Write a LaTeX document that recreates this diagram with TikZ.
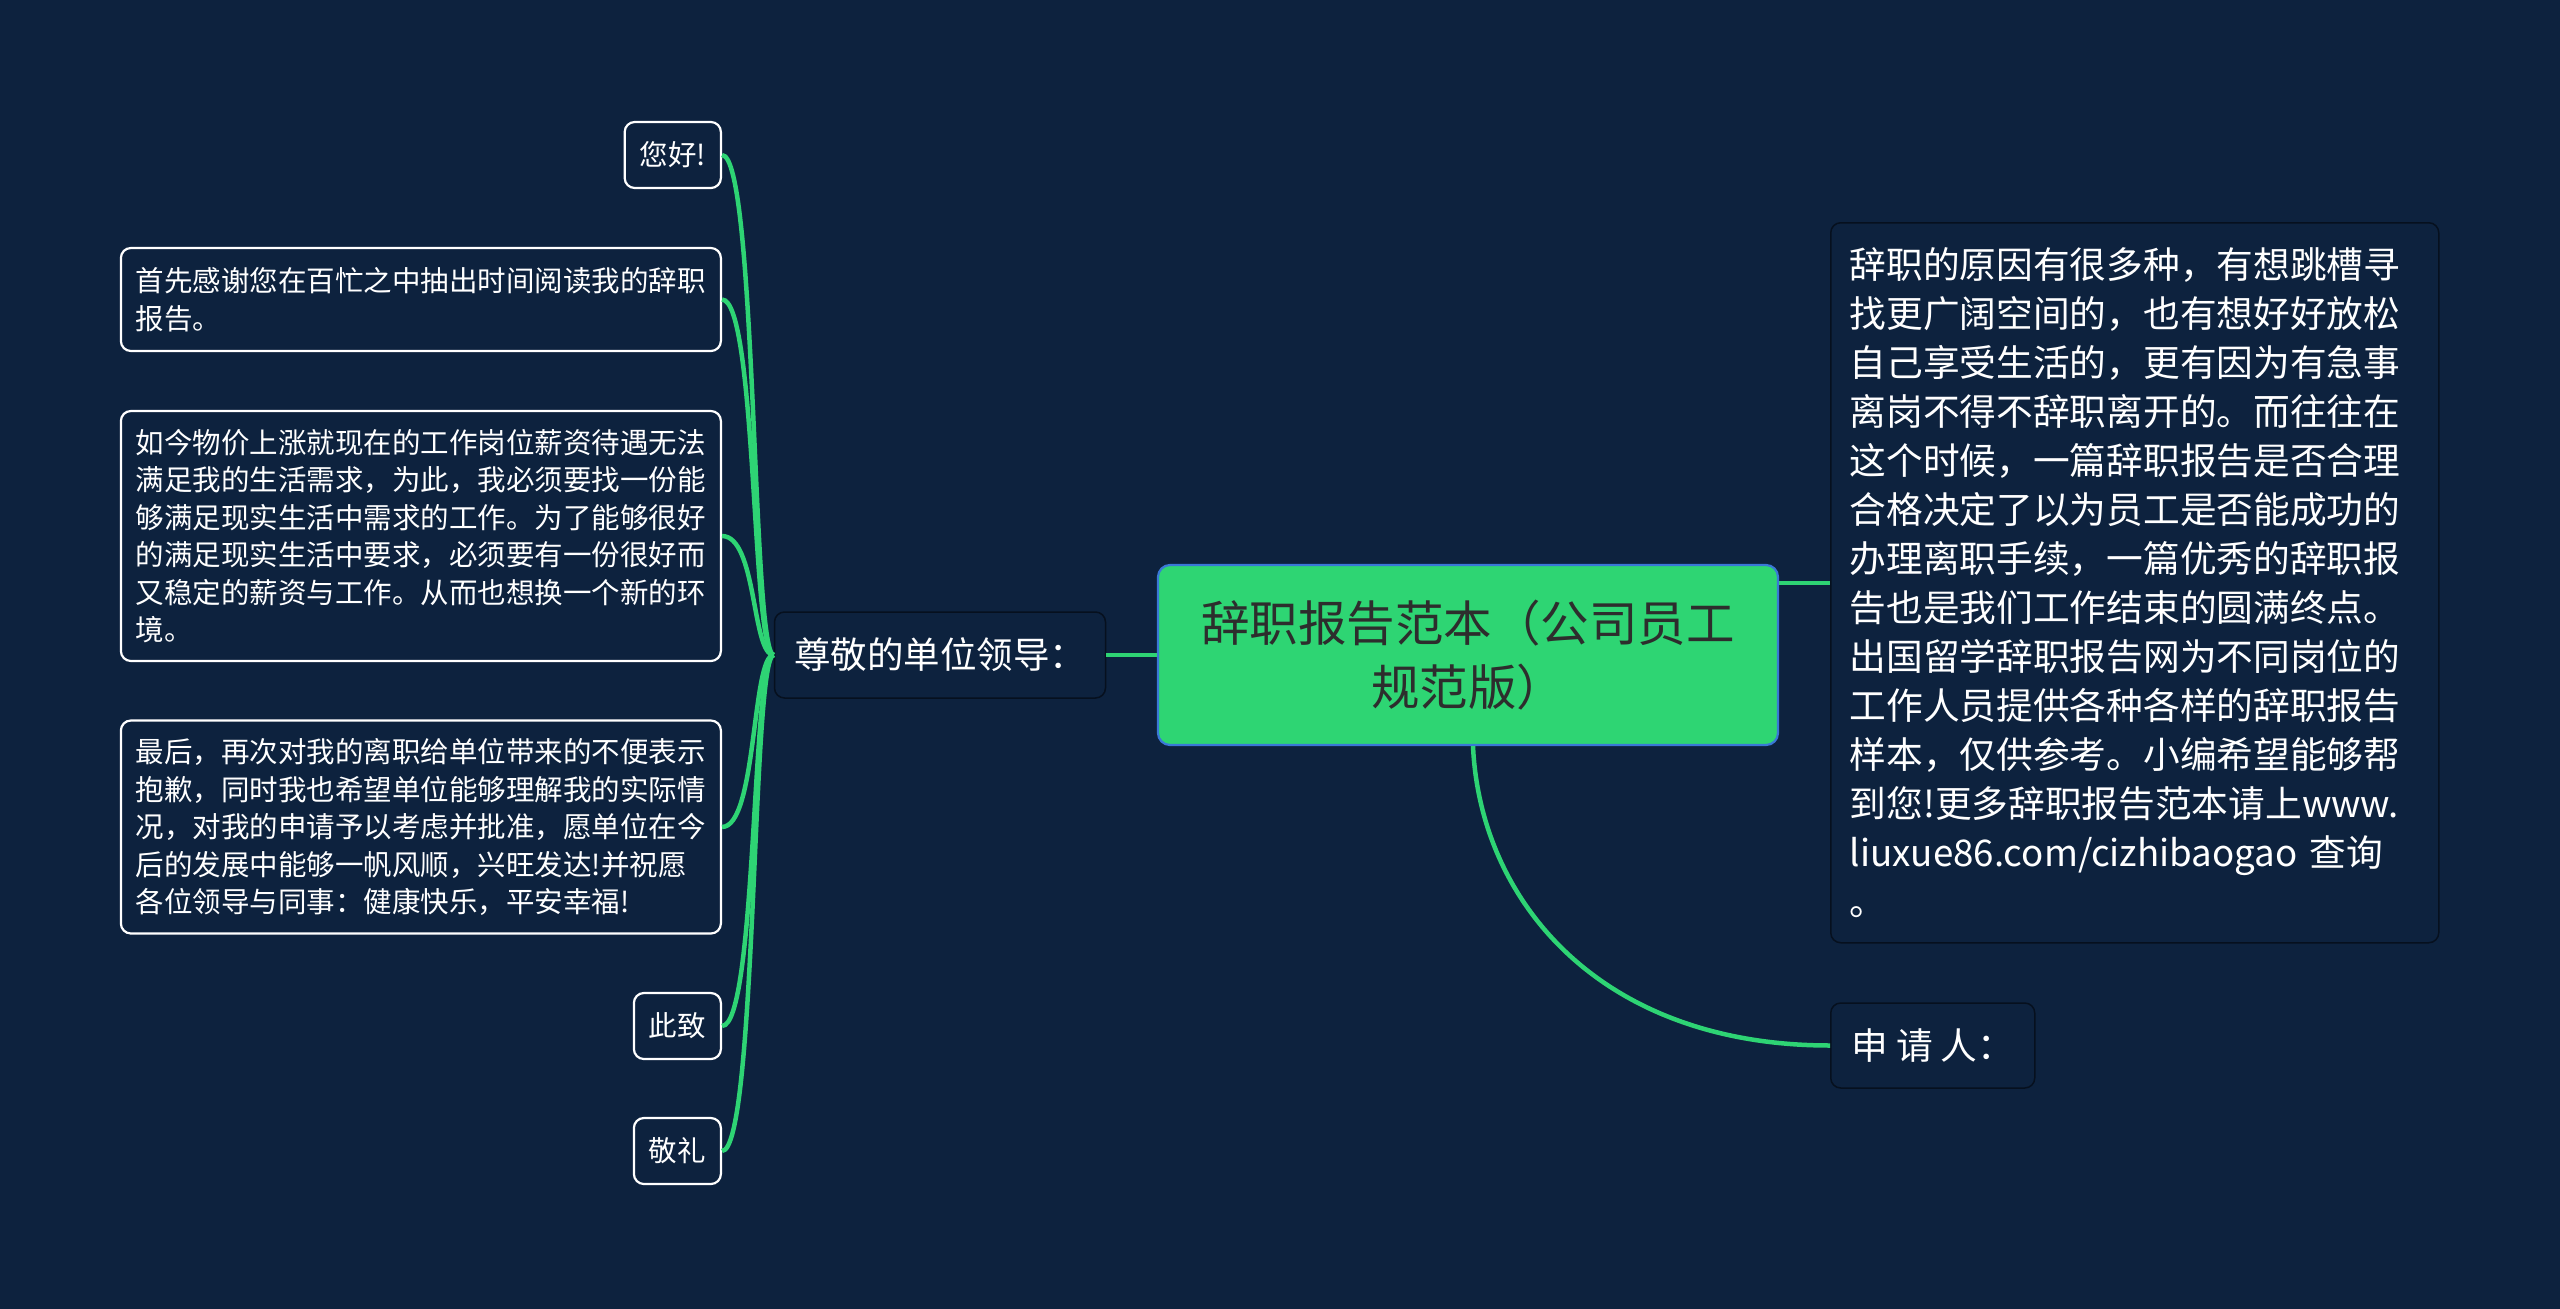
\documentclass[tikz,border=0pt]{standalone}
\usepackage{fontspec}
\setmainfont{Noto Sans CJK SC}
\definecolor{bg}{RGB}{13,34,62}
\definecolor{lnk}{RGB}{46,212,116}
\definecolor{cfill}{RGB}{46,213,115}
\definecolor{cborder}{RGB}{58,120,214}
\definecolor{dborder}{RGB}{6,16,30}
\definecolor{ctext}{RGB}{45,45,45}
\begin{document}
\begin{tikzpicture}[x=1pt,y=-1pt,
  leaf/.style={draw=white, line width=2.2pt, rounded corners=10pt, fill=bg, text=white,
    font=\fontsize{28.5}{37.5}\selectfont, inner xsep=15pt, inner ysep=0pt, anchor=east, align=left},
  darkbox/.style={draw=dborder, line width=1.5pt, rounded corners=10pt, fill=bg, text=white,
    inner ysep=0pt},
  mainbox/.style={draw=cborder, line width=2.2pt, rounded corners=12pt, fill=cfill, text=ctext,
    font=\fontsize{48.5}{64}\selectfont, align=center, minimum width=620pt, minimum height=180pt, inner sep=0pt},
  link/.style={draw=lnk, line width=4.5pt}]
\fill[bg] (0,0) rectangle (2560,1309);
\useasboundingbox (0,0) rectangle (2560,1309);

% central
\node[mainbox] (c) at (1468,655) {辞职报告范本（公司员工\\规范版）};

% left parent
\node[darkbox, font=\fontsize{36.5}{44}\selectfont, inner xsep=19pt, minimum width=331pt, minimum height=86pt] (p) at (940,655) {尊敬的单位领导：};

% leaves
\node[leaf, minimum height=66pt] (l1) at (722,155) {您好!};
\node[leaf, text width=570pt, minimum height=103pt] (l2) at (722,299.5) {首先感谢您在百忙之中抽出时间阅读我的辞职\\报告。};
\node[leaf, text width=570pt, minimum height=250pt] (l3) at (722,536) {如今物价上涨就现在的工作岗位薪资待遇无法\\满足我的生活需求，为此，我必须要找一份能\\够满足现实生活中需求的工作。为了能够很好\\的满足现实生活中要求，必须要有一份很好而\\又稳定的薪资与工作。从而也想换一个新的环\\境。};
\node[leaf, text width=570pt, minimum height=213pt] (l4) at (722,827) {最后，再次对我的离职给单位带来的不便表示\\抱歉，同时我也希望单位能够理解我的实际情\\况，对我的申请予以考虑并批准，愿单位在今\\后的发展中能够一帆风顺，兴旺发达!并祝愿\\各位领导与同事：健康快乐，平安幸福!};
\node[leaf, minimum height=66pt] (l5) at (722,1026) {此致};
\node[leaf, minimum height=66pt] (l6) at (722,1151) {敬礼};

% right
\node[darkbox, anchor=north west, font=\fontsize{36.7}{49}\selectfont, align=left, text width=570pt, inner xsep=19pt, minimum height=720pt] (r) at (1830,222) {辞职的原因有很多种，有想跳槽寻\\找更广阔空间的，也有想好好放松\\自己享受生活的，更有因为有急事\\离岗不得不辞职离开的。而往往在\\这个时候，一篇辞职报告是否合理\\合格决定了以为员工是否能成功的\\办理离职手续，一篇优秀的辞职报\\告也是我们工作结束的圆满终点。\\出国留学辞职报告网为不同岗位的\\工作人员提供各种各样的辞职报告\\样本，仅供参考。小编希望能够帮\\到您!更多辞职报告范本请上www.\\liuxue86.com/cizhibaogao 查询\\。};
\node[darkbox, anchor=west, font=\fontsize{36.7}{44}\selectfont, inner xsep=20pt, minimum width=204pt, minimum height=85pt] (s) at (1830,1045.5) {申 请 人：};

% connectors
\draw[link] (c.west) -- (p.east);
\draw[link] (c.east |- r.west) -- (r.west);
\draw[link] ([xshift=5pt]c.south) .. controls +(7,155) and +(-230,0) .. (s.west);
\foreach \n in {l1,l2,l3,l4,l5,l6}
  \draw[link] (p.west) .. controls +(-22,0) and +(35,0) .. (\n.east);
\end{tikzpicture}
\end{document}
